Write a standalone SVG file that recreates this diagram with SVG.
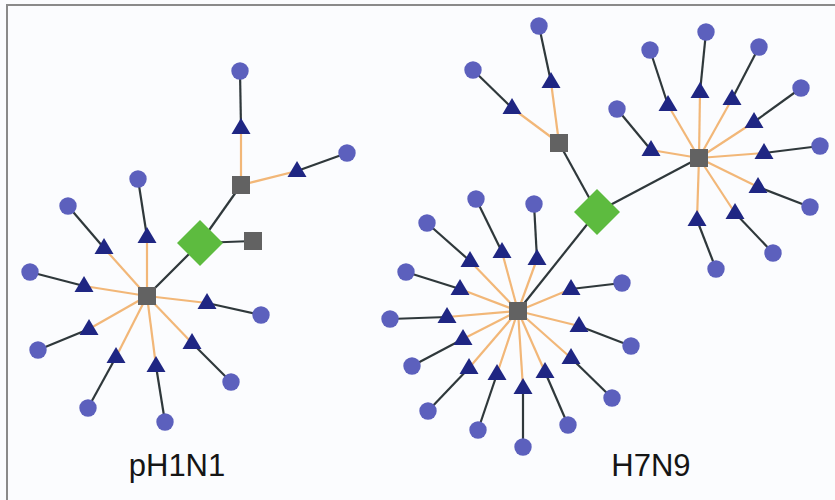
<svg xmlns="http://www.w3.org/2000/svg" xmlns:xlink="http://www.w3.org/1999/xlink" width="835" height="500" viewBox="0 0 835 500">
<style>
.bg{fill:#fbfcfe}
.frame{fill:none;stroke:#8a8a8a;stroke-width:2}
.or{stroke:#f2b778;stroke-width:2.2;fill:none}
.dk{stroke:#2f383b;stroke-width:2.2;fill:none}
.leaf{fill:#5c60bd}
.tri{fill:#1f2683}
.sq{fill:#626262}
.dia{fill:#5dbb3f}
.lbl{font-family:"Liberation Sans",Arial,sans-serif;font-size:31px;fill:#151515;text-anchor:middle}
</style>
<defs>
<path id="t" class="tri" d="M0,-10 L9.5,6 L-9.5,6 Z"/>
<rect id="s" class="sq" x="-9" y="-9" width="18" height="18"/>
<circle id="c" class="leaf" r="8.7"/>
<path id="d" class="dia" d="M0,-23 L23,0 L0,23 L-23,0 Z"/>
</defs>
<rect class="bg" x="0" y="0" width="835" height="500"/>
<path class="frame" d="M7,500 V5 H835"/>
<g id="connectors">
<g class="dk">
<line x1="200" y1="243" x2="147" y2="296"/>
<line x1="200" y1="243" x2="241" y2="185"/>
<line x1="200" y1="243" x2="253" y2="241"/>
<line x1="597" y1="212" x2="559" y2="143"/>
<line x1="597" y1="212" x2="699" y2="158"/>
<line x1="597" y1="212" x2="518" y2="311"/>
<line x1="241" y1="128" x2="240" y2="71"/>
<line x1="297" y1="171" x2="347" y2="153"/>
<line x1="104" y1="248" x2="68" y2="206"/>
<line x1="147" y1="237" x2="138" y2="179"/>
<line x1="84" y1="286" x2="30" y2="272"/>
<line x1="207" y1="303" x2="261" y2="315"/>
<line x1="89" y1="329" x2="38" y2="350"/>
<line x1="116" y1="357" x2="88" y2="408"/>
<line x1="156" y1="366" x2="165" y2="422"/>
<line x1="192" y1="343" x2="231" y2="382"/>
<line x1="551" y1="82" x2="539" y2="26"/>
<line x1="512" y1="108" x2="473" y2="70"/>
<line x1="668" y1="105" x2="650" y2="50"/>
<line x1="700" y1="92" x2="706" y2="32"/>
<line x1="732" y1="99" x2="759" y2="47"/>
<line x1="754" y1="122" x2="801" y2="88"/>
<line x1="764" y1="153" x2="820" y2="146"/>
<line x1="758" y1="187" x2="810" y2="207"/>
<line x1="651" y1="150" x2="617" y2="109"/>
<line x1="735" y1="213" x2="773" y2="253"/>
<line x1="697" y1="220" x2="716" y2="269"/>
<line x1="502" y1="252" x2="476" y2="199"/>
<line x1="537" y1="259" x2="534" y2="204"/>
<line x1="470" y1="261" x2="427" y2="223"/>
<line x1="460" y1="289" x2="406" y2="272"/>
<line x1="447" y1="317" x2="390" y2="319"/>
<line x1="463" y1="339" x2="412" y2="366"/>
<line x1="469" y1="368" x2="428" y2="411"/>
<line x1="497" y1="374" x2="478" y2="430"/>
<line x1="523" y1="388" x2="523" y2="447"/>
<line x1="545" y1="372" x2="568" y2="425"/>
<line x1="571" y1="358" x2="612" y2="398"/>
<line x1="579" y1="326" x2="631" y2="346"/>
<line x1="571" y1="289" x2="622" y2="283"/>
</g>
<g class="or">
<line x1="241" y1="185" x2="241" y2="128"/>
<line x1="241" y1="185" x2="297" y2="171"/>
<line x1="147" y1="296" x2="104" y2="248"/>
<line x1="147" y1="296" x2="147" y2="237"/>
<line x1="147" y1="296" x2="84" y2="286"/>
<line x1="147" y1="296" x2="207" y2="303"/>
<line x1="147" y1="296" x2="89" y2="329"/>
<line x1="147" y1="296" x2="116" y2="357"/>
<line x1="147" y1="296" x2="156" y2="366"/>
<line x1="147" y1="296" x2="192" y2="343"/>
<line x1="559" y1="143" x2="551" y2="82"/>
<line x1="559" y1="143" x2="512" y2="108"/>
<line x1="699" y1="158" x2="668" y2="105"/>
<line x1="699" y1="158" x2="700" y2="92"/>
<line x1="699" y1="158" x2="732" y2="99"/>
<line x1="699" y1="158" x2="754" y2="122"/>
<line x1="699" y1="158" x2="764" y2="153"/>
<line x1="699" y1="158" x2="758" y2="187"/>
<line x1="699" y1="158" x2="651" y2="150"/>
<line x1="699" y1="158" x2="735" y2="213"/>
<line x1="699" y1="158" x2="697" y2="220"/>
<line x1="518" y1="311" x2="502" y2="252"/>
<line x1="518" y1="311" x2="537" y2="259"/>
<line x1="518" y1="311" x2="470" y2="261"/>
<line x1="518" y1="311" x2="460" y2="289"/>
<line x1="518" y1="311" x2="447" y2="317"/>
<line x1="518" y1="311" x2="463" y2="339"/>
<line x1="518" y1="311" x2="469" y2="368"/>
<line x1="518" y1="311" x2="497" y2="374"/>
<line x1="518" y1="311" x2="523" y2="388"/>
<line x1="518" y1="311" x2="545" y2="372"/>
<line x1="518" y1="311" x2="571" y2="358"/>
<line x1="518" y1="311" x2="579" y2="326"/>
<line x1="518" y1="311" x2="571" y2="289"/>
</g>
</g>
<g id="L-diamond"><use href="#d" x="200" y="243"/></g>
<g id="L-hub"><use href="#s" x="147" y="296"/></g>
<g id="L-sq2"><use href="#s" x="241" y="185"/></g>
<g id="L-sq3"><use href="#s" x="253" y="241"/></g>
<g id="L-t1"><use href="#t" x="241" y="128"/></g><g id="L-c1"><use href="#c" x="240" y="71"/></g>
<g id="L-t2"><use href="#t" x="297" y="171"/></g><g id="L-c2"><use href="#c" x="347" y="153"/></g>
<g id="L-t3"><use href="#t" x="104" y="248"/></g><g id="L-c3"><use href="#c" x="68" y="206"/></g>
<g id="L-t4"><use href="#t" x="147" y="237"/></g><g id="L-c4"><use href="#c" x="138" y="179"/></g>
<g id="L-t5"><use href="#t" x="84" y="286"/></g><g id="L-c5"><use href="#c" x="30" y="272"/></g>
<g id="L-t6"><use href="#t" x="207" y="303"/></g><g id="L-c6"><use href="#c" x="261" y="315"/></g>
<g id="L-t7"><use href="#t" x="89" y="329"/></g><g id="L-c7"><use href="#c" x="38" y="350"/></g>
<g id="L-t8"><use href="#t" x="116" y="357"/></g><g id="L-c8"><use href="#c" x="88" y="408"/></g>
<g id="L-t9"><use href="#t" x="156" y="366"/></g><g id="L-c9"><use href="#c" x="165" y="422"/></g>
<g id="L-t10"><use href="#t" x="192" y="343"/></g><g id="L-c10"><use href="#c" x="231" y="382"/></g>
<g id="R-diamond"><use href="#d" x="597" y="212"/></g>
<g id="R-sqA"><use href="#s" x="559" y="143"/></g>
<g id="R-hubB"><use href="#s" x="699" y="158"/></g>
<g id="R-hubC"><use href="#s" x="518" y="311"/></g>
<g id="RA-t1"><use href="#t" x="551" y="82"/></g><g id="RA-c1"><use href="#c" x="539" y="26"/></g>
<g id="RA-t2"><use href="#t" x="512" y="108"/></g><g id="RA-c2"><use href="#c" x="473" y="70"/></g>
<g id="RB-t1"><use href="#t" x="668" y="105"/></g><g id="RB-c1"><use href="#c" x="650" y="50"/></g>
<g id="RB-t2"><use href="#t" x="700" y="92"/></g><g id="RB-c2"><use href="#c" x="706" y="32"/></g>
<g id="RB-t3"><use href="#t" x="732" y="99"/></g><g id="RB-c3"><use href="#c" x="759" y="47"/></g>
<g id="RB-t4"><use href="#t" x="754" y="122"/></g><g id="RB-c4"><use href="#c" x="801" y="88"/></g>
<g id="RB-t5"><use href="#t" x="764" y="153"/></g><g id="RB-c5"><use href="#c" x="820" y="146"/></g>
<g id="RB-t6"><use href="#t" x="758" y="187"/></g><g id="RB-c6"><use href="#c" x="810" y="207"/></g>
<g id="RB-t7"><use href="#t" x="651" y="150"/></g><g id="RB-c7"><use href="#c" x="617" y="109"/></g>
<g id="RB-t8"><use href="#t" x="735" y="213"/></g><g id="RB-c8"><use href="#c" x="773" y="253"/></g>
<g id="RB-t9"><use href="#t" x="697" y="220"/></g><g id="RB-c9"><use href="#c" x="716" y="269"/></g>
<g id="RC-t1"><use href="#t" x="502" y="252"/></g><g id="RC-c1"><use href="#c" x="476" y="199"/></g>
<g id="RC-t2"><use href="#t" x="537" y="259"/></g><g id="RC-c2"><use href="#c" x="534" y="204"/></g>
<g id="RC-t3"><use href="#t" x="470" y="261"/></g><g id="RC-c3"><use href="#c" x="427" y="223"/></g>
<g id="RC-t4"><use href="#t" x="460" y="289"/></g><g id="RC-c4"><use href="#c" x="406" y="272"/></g>
<g id="RC-t5"><use href="#t" x="447" y="317"/></g><g id="RC-c5"><use href="#c" x="390" y="319"/></g>
<g id="RC-t6"><use href="#t" x="463" y="339"/></g><g id="RC-c6"><use href="#c" x="412" y="366"/></g>
<g id="RC-t7"><use href="#t" x="469" y="368"/></g><g id="RC-c7"><use href="#c" x="428" y="411"/></g>
<g id="RC-t8"><use href="#t" x="497" y="374"/></g><g id="RC-c8"><use href="#c" x="478" y="430"/></g>
<g id="RC-t9"><use href="#t" x="523" y="388"/></g><g id="RC-c9"><use href="#c" x="523" y="447"/></g>
<g id="RC-t10"><use href="#t" x="545" y="372"/></g><g id="RC-c10"><use href="#c" x="568" y="425"/></g>
<g id="RC-t11"><use href="#t" x="571" y="358"/></g><g id="RC-c11"><use href="#c" x="612" y="398"/></g>
<g id="RC-t12"><use href="#t" x="579" y="326"/></g><g id="RC-c12"><use href="#c" x="631" y="346"/></g>
<g id="RC-t13"><use href="#t" x="571" y="289"/></g><g id="RC-c13"><use href="#c" x="622" y="283"/></g>
<g id="label-left"><text class="lbl" x="177" y="476">pH1N1</text></g>
<g id="label-right"><text class="lbl" x="651" y="476">H7N9</text></g>
</svg>
